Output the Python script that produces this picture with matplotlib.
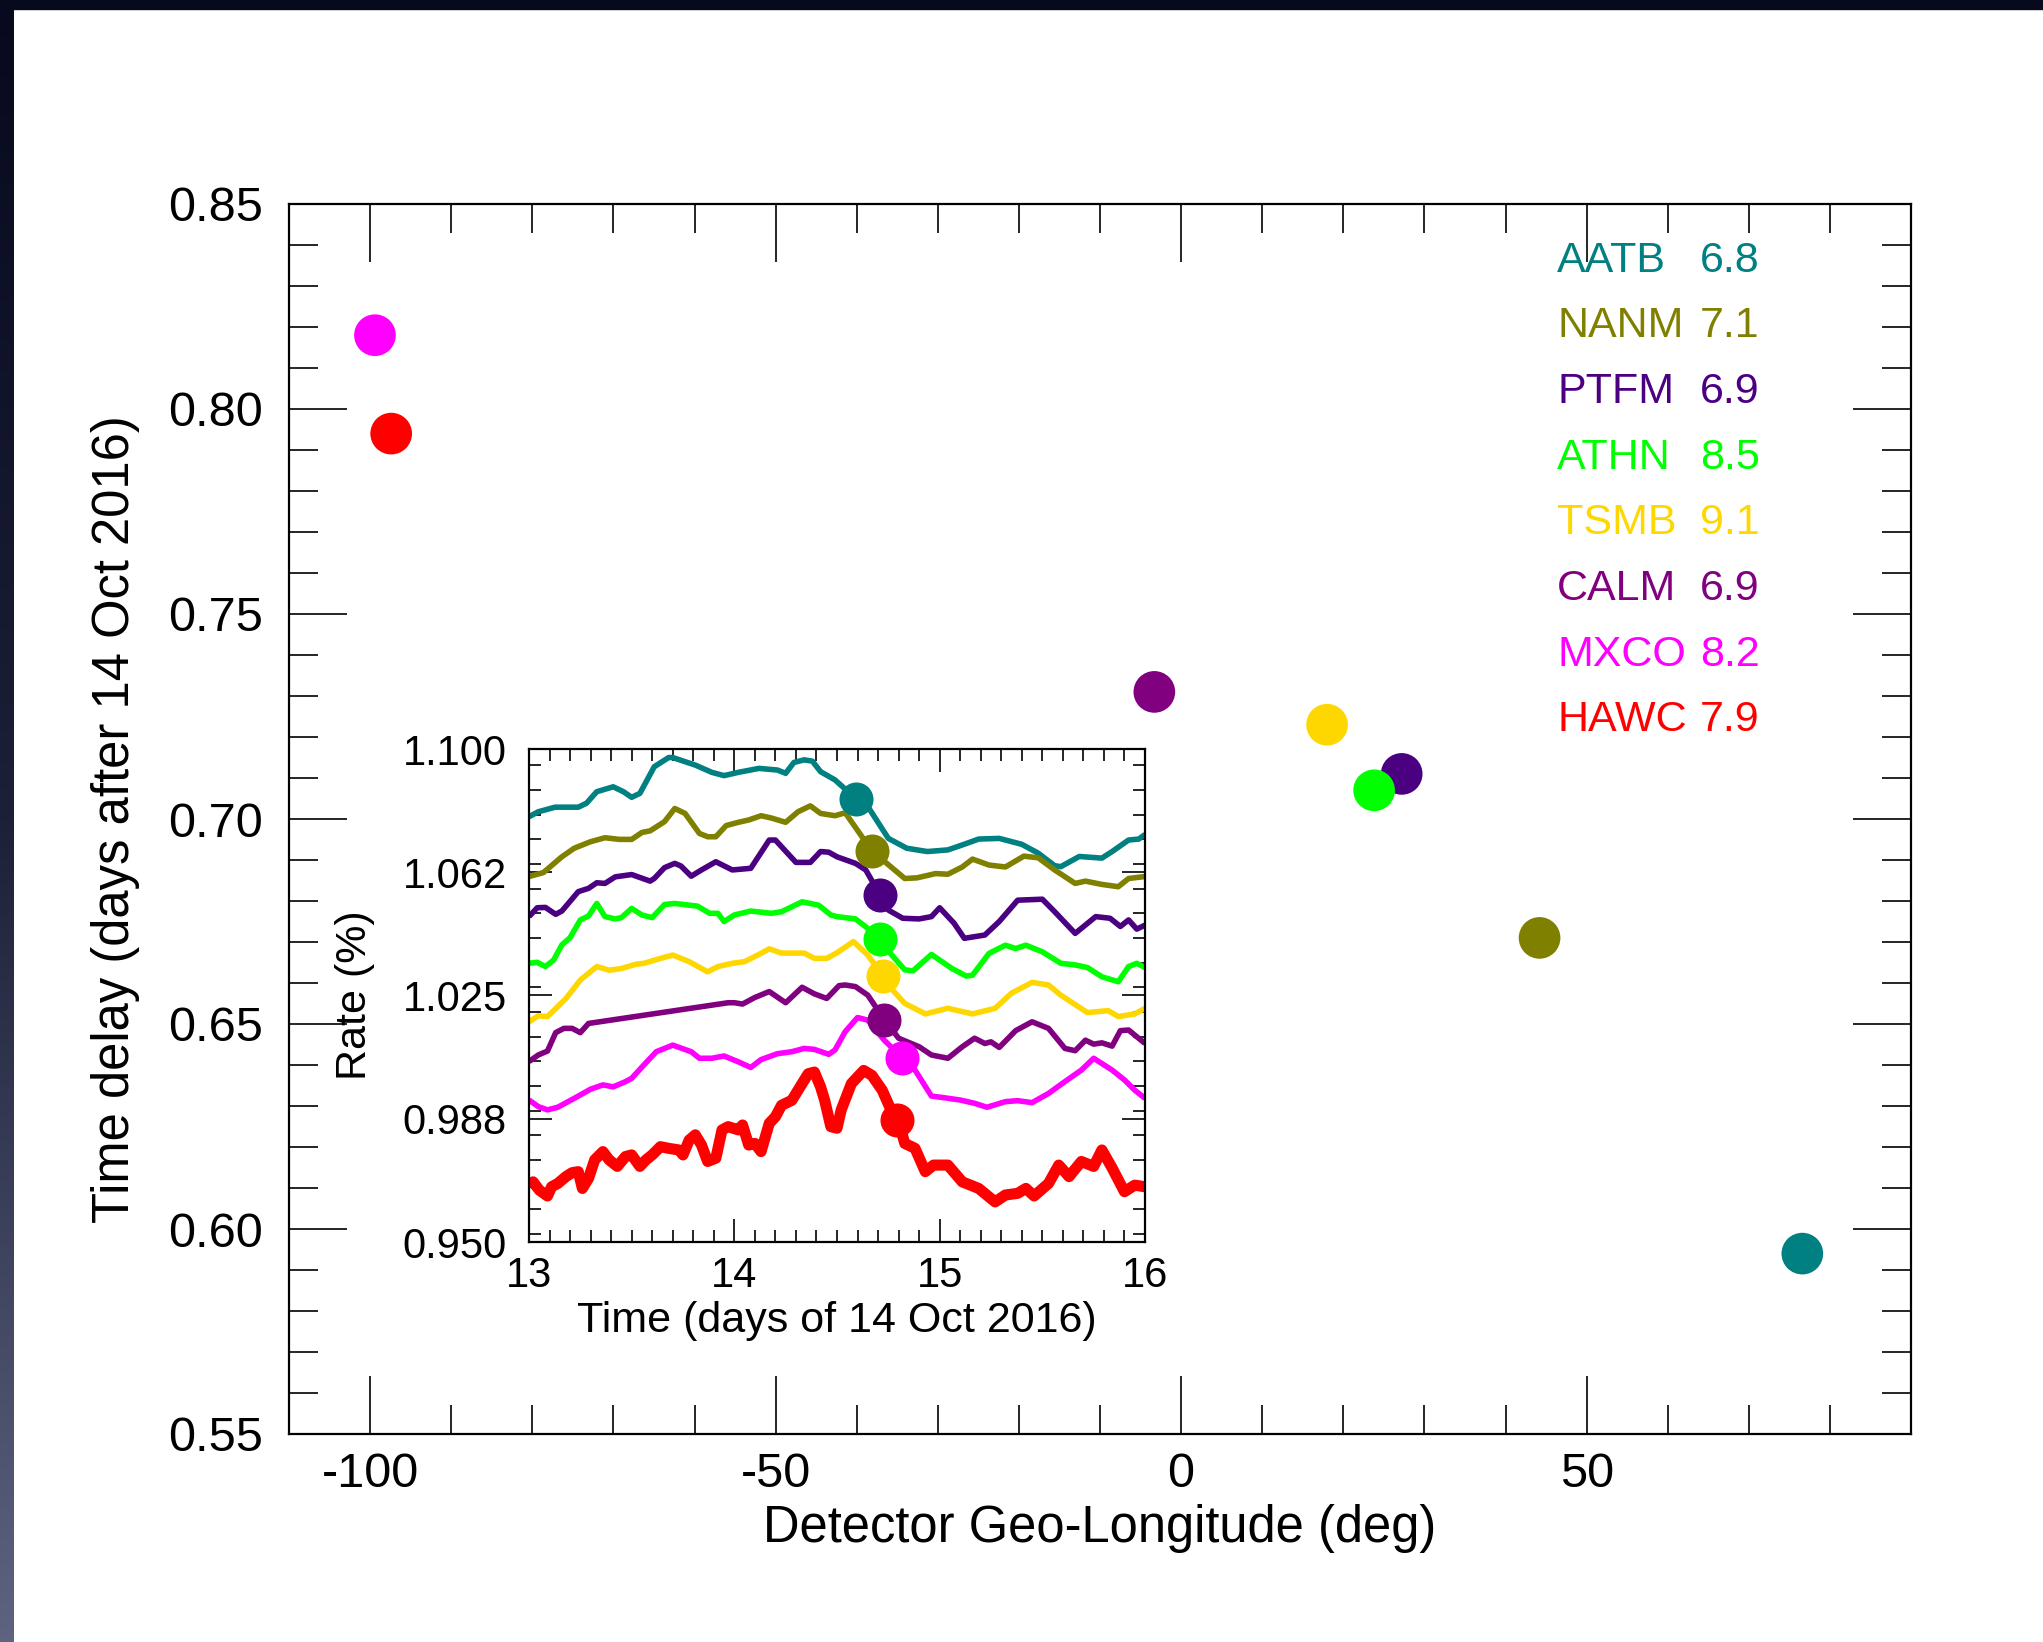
import matplotlib
matplotlib.use("Agg")
import matplotlib.pyplot as plt
import numpy as np
from matplotlib.patches import Rectangle
from matplotlib.ticker import MultipleLocator, FixedLocator

plt.rcParams["font.family"] = ["Liberation Sans", "DejaVu Sans"]
plt.rcParams["axes.unicode_minus"] = False

# stations: name, geo-longitude (deg), time delay (days after 14 Oct 2016), value
stations = ["AATB", "NANM", "PTFM", "ATHN", "TSMB", "CALM", "MXCO", "HAWC"]
values = ["6.8", "7.1", "6.9", "8.5", "9.1", "6.9", "8.2", "7.9"]
longitude = [76.6, 44.2, 27.2, 23.8, 18.0, -3.3, -99.4, -97.4]
delay = [0.594, 0.671, 0.711, 0.707, 0.723, 0.731, 0.818, 0.794]
colors = ["#008080", "#808000", "#4b0082", "#00ff00", "#ffd700", "#800080", "#ff00ff", "#ff0000"]

# inset rate curves (days, rate)
aatb_t = [13.00, 13.045, 13.127, 13.24, 13.28, 13.33, 13.41, 13.46, 13.50, 13.54, 13.61, 13.68, 13.70,
          13.81, 13.89, 13.95, 14.02, 14.12, 14.21, 14.25, 14.29, 14.34, 14.38, 14.42, 14.49, 14.59,
          14.65, 14.75, 14.84, 14.94, 15.04, 15.11, 15.19, 15.29, 15.40, 15.48, 15.56, 15.59, 15.68,
          15.79, 15.84, 15.92, 15.97, 16.00]
aatb_r = [1.0794, 1.0809, 1.0823, 1.0823, 1.0835, 1.0870, 1.0885, 1.0870, 1.0853, 1.0865, 1.0946, 1.0974,
          1.0974, 1.0951, 1.0929, 1.0919, 1.0929, 1.0941, 1.0936, 1.0926, 1.0959, 1.0967, 1.0963, 1.0931,
          1.0906, 1.0850, 1.0825, 1.0728, 1.0698, 1.0688, 1.0693, 1.0708, 1.0726, 1.0728, 1.0710, 1.0683,
          1.0645, 1.0642, 1.0673, 1.0668, 1.0688, 1.0723, 1.0726, 1.0740]

nanm_t = [13.00, 13.07, 13.16, 13.22, 13.30, 13.37, 13.44, 13.50, 13.55, 13.59, 13.66, 13.71, 13.76,
          13.83, 13.87, 13.91, 13.96, 14.02, 14.07, 14.13, 14.18, 14.25, 14.31, 14.37, 14.42, 14.49,
          14.54, 14.67, 14.83, 14.89, 14.98, 15.04, 15.11, 15.16, 15.24, 15.32, 15.41, 15.48, 15.56,
          15.66, 15.71, 15.79, 15.87, 15.92, 16.00]
nanm_r = [1.0612, 1.0624, 1.0672, 1.0698, 1.0718, 1.0730, 1.0725, 1.0725, 1.0746, 1.0751, 1.0779, 1.0819,
          1.0804, 1.0743, 1.0733, 1.0733, 1.0767, 1.0777, 1.0784, 1.0797, 1.0790, 1.0777, 1.0809, 1.0827,
          1.0804, 1.0797, 1.0806, 1.0690, 1.0606, 1.0608, 1.0621, 1.0619, 1.0641, 1.0665, 1.0647, 1.0641,
          1.0674, 1.0669, 1.0632, 1.0591, 1.0598, 1.0588, 1.0581, 1.0606, 1.0612]

ptfm_t = [13.00, 13.04, 13.08, 13.13, 13.16, 13.24, 13.29, 13.33, 13.37, 13.42, 13.50, 13.59, 13.61,
          13.66, 13.71, 13.74, 13.79, 13.84, 13.91, 13.99, 14.08, 14.17, 14.20, 14.30, 14.37, 14.42,
          14.46, 14.50, 14.59, 14.64, 14.71, 14.75, 14.82, 14.90, 14.96, 15.00, 15.07, 15.12, 15.22,
          15.29, 15.38, 15.50, 15.56, 15.66, 15.76, 15.83, 15.88, 15.92, 15.96, 16.00]
ptfm_r = [1.0490, 1.0517, 1.0518, 1.0497, 1.0507, 1.0566, 1.0576, 1.0593, 1.0591, 1.0611, 1.0618, 1.0598,
          1.0606, 1.0639, 1.0652, 1.0644, 1.0613, 1.0632, 1.0657, 1.0632, 1.0637, 1.0723, 1.0723, 1.0655,
          1.0655, 1.0688, 1.0686, 1.0672, 1.0652, 1.0632, 1.0556, 1.0510, 1.0485, 1.0483, 1.0490, 1.0517,
          1.0470, 1.0424, 1.0434, 1.0475, 1.0540, 1.0543, 1.0505, 1.0439, 1.0490, 1.0485, 1.0460, 1.0480,
          1.0452, 1.0464]

athn_t = [13.00, 13.04, 13.08, 13.12, 13.16, 13.20, 13.25, 13.29, 13.33, 13.37, 13.42, 13.45, 13.50,
          13.55, 13.60, 13.66, 13.71, 13.82, 13.88, 13.92, 13.95, 14.00, 14.08, 14.18, 14.23, 14.33,
          14.41, 14.47, 14.50, 14.59, 14.64, 14.71, 14.76, 14.83, 14.87, 14.96, 15.06, 15.13, 15.16,
          15.24, 15.32, 15.37, 15.42, 15.50, 15.59, 15.66, 15.72, 15.79, 15.87, 15.92, 15.96, 16.00]
athn_r = [1.0348, 1.0351, 1.0338, 1.0358, 1.0404, 1.0426, 1.0480, 1.0492, 1.0530, 1.0490, 1.0483, 1.0487,
          1.0515, 1.0495, 1.0487, 1.0527, 1.0530, 1.0522, 1.0500, 1.0500, 1.0475, 1.0495, 1.0507, 1.0500,
          1.0505, 1.0535, 1.0525, 1.0495, 1.0490, 1.0483, 1.0459, 1.0419, 1.0378, 1.0328, 1.0325, 1.0375,
          1.0332, 1.0309, 1.0312, 1.0378, 1.0403, 1.0393, 1.0403, 1.0383, 1.0348, 1.0343, 1.0335, 1.0307,
          1.0292, 1.0338, 1.0348, 1.0335]

tsmb_t = [13.00, 13.045, 13.09, 13.13, 13.18, 13.25, 13.33, 13.39, 13.45, 13.52, 13.56, 13.63, 13.70,
          13.78, 13.87, 13.92, 13.99, 14.05, 14.12, 14.17, 14.23, 14.34, 14.39, 14.45, 14.50, 14.58,
          14.65, 14.72, 14.77, 14.83, 14.93, 15.04, 15.16, 15.27, 15.35, 15.45, 15.53, 15.59, 15.72,
          15.82, 15.87, 15.95, 16.00]
tsmb_r = [1.0170, 1.0188, 1.0186, 1.0210, 1.0241, 1.0297, 1.0338, 1.0327, 1.0332, 1.0345, 1.0348, 1.0361,
          1.0373, 1.0353, 1.0322, 1.0338, 1.0348, 1.0353, 1.0375, 1.0392, 1.0379, 1.0379, 1.0363, 1.0363,
          1.0380, 1.0414, 1.0373, 1.0312, 1.0267, 1.0226, 1.0194, 1.0211, 1.0194, 1.0211, 1.0257, 1.0290,
          1.0282, 1.0251, 1.0198, 1.0204, 1.0186, 1.0194, 1.0211]

calm_t = [13.00, 13.045, 13.09, 13.13, 13.17, 13.21, 13.25, 13.29, 13.97, 14.00, 14.04, 14.10, 14.17,
          14.25, 14.33, 14.39, 14.45, 14.51, 14.54, 14.59, 14.65, 14.73, 14.80, 14.90, 14.96, 15.04,
          15.11, 15.17, 15.22, 15.25, 15.29, 15.37, 15.45, 15.53, 15.61, 15.66, 15.71, 15.75, 15.79,
          15.84, 15.88, 15.92, 16.00]
calm_r = [1.0049, 1.0069, 1.0081, 1.0137, 1.0150, 1.0150, 1.0137, 1.0165, 1.0228, 1.0228, 1.0224, 1.0244,
          1.0262, 1.0228, 1.0275, 1.0255, 1.0241, 1.0280, 1.0282, 1.0277, 1.0251, 1.0177, 1.0120, 1.0094,
          1.0069, 1.0059, 1.0094, 1.0120, 1.0104, 1.0109, 1.0092, 1.0143, 1.0170, 1.0150, 1.0089, 1.0082,
          1.0114, 1.0102, 1.0106, 1.0096, 1.0143, 1.0145, 1.0104]

mxco_t = [13.00, 13.045, 13.09, 13.14, 13.22, 13.30, 13.36, 13.41, 13.47, 13.50, 13.56, 13.62, 13.70,
          13.79, 13.83, 13.89, 13.95, 14.02, 14.08, 14.13, 14.21, 14.28, 14.34, 14.39, 14.46, 14.49,
          14.54, 14.60, 14.65, 14.73, 14.82, 14.88, 14.96, 15.01, 15.10, 15.17, 15.23, 15.32, 15.38,
          15.45, 15.53, 15.61, 15.69, 15.75, 15.84, 15.90, 15.95, 16.00]
mxco_r = [0.9932, 0.9912, 0.9902, 0.9910, 0.9937, 0.9965, 0.9978, 0.9972, 0.9988, 0.9998, 1.0039, 1.0079,
          1.0099, 1.0079, 1.0059, 1.0059, 1.0066, 1.0048, 1.0031, 1.0055, 1.0073, 1.0079, 1.0089, 1.0086,
          1.0071, 1.0084, 1.0140, 1.0183, 1.0175, 1.0114, 1.0059, 1.0023, 0.9944, 0.9940, 0.9932, 0.9922,
          0.9910, 0.9927, 0.9930, 0.9924, 0.9952, 0.9988, 1.0023, 1.0059, 1.0023, 0.9993, 0.9962, 0.9937]

hawc_t = [13.00, 13.02, 13.05, 13.09, 13.11, 13.14, 13.18, 13.21, 13.24, 13.26, 13.29, 13.32, 13.36,
          13.39, 13.43, 13.47, 13.50, 13.54, 13.57, 13.60, 13.64, 13.68, 13.73, 13.75, 13.78, 13.81,
          13.84, 13.87, 13.91, 13.94, 13.97, 14.02, 14.04, 14.07, 14.10, 14.13, 14.17, 14.20, 14.23,
          14.28, 14.33, 14.36, 14.39, 14.42, 14.44, 14.47, 14.50, 14.52, 14.57, 14.63, 14.67, 14.72,
          14.76, 14.80, 14.83, 14.88, 14.93, 14.97, 15.04, 15.11, 15.19, 15.27, 15.32, 15.38, 15.42,
          15.46, 15.53, 15.58, 15.63, 15.69, 15.75, 15.79, 15.84, 15.90, 15.95, 16.00]
hawc_r = [0.9668, 0.9683, 0.9658, 0.9640, 0.9668, 0.9678, 0.9699, 0.9711, 0.9714, 0.9663, 0.9694, 0.9750,
          0.9775, 0.9750, 0.9730, 0.9760, 0.9765, 0.9730, 0.9750, 0.9765, 0.9790, 0.9785, 0.9780, 0.9765,
          0.9810, 0.9826, 0.9795, 0.9745, 0.9755, 0.9841, 0.9851, 0.9841, 0.9856, 0.9795, 0.9800, 0.9775,
          0.9861, 0.9881, 0.9916, 0.9931, 0.9982, 1.0012, 1.0017, 0.9972, 0.9931, 0.9851, 0.9846, 0.9901,
          0.9982, 1.0022, 1.0007, 0.9962, 0.9906, 0.9866, 0.9800, 0.9785, 0.9714, 0.9734, 0.9734, 0.9683,
          0.9663, 0.9622, 0.9643, 0.9648, 0.9663, 0.9640, 0.9678, 0.9734, 0.9699, 0.9745, 0.9730, 0.9780,
          0.9725, 0.9653, 0.9673, 0.9668]

curves_t = [aatb_t, nanm_t, ptfm_t, athn_t, tsmb_t, calm_t, mxco_t, hawc_t]
curves_r = [aatb_r, nanm_r, ptfm_r, athn_r, tsmb_r, calm_r, mxco_r, hawc_r]

inset_yticks = [0.950, 0.9875, 1.025, 1.0625, 1.100]
inset_ylabels = ["0.950", "0.988", "1.025", "1.062", "1.100"]

fig = plt.figure(figsize=(20.43, 16.42), dpi=100)
fig.patch.set_facecolor("white")

# dark slide frame on top and left edge
fig.patches.append(Rectangle((0, 1 - 9 / 1642), 1, 9 / 1642, transform=fig.transFigure,
                             color="#070a1c", zorder=0))
band = fig.add_axes([0, 0, 14 / 2043, 1])
grad = np.linspace(0, 1, 256).reshape(-1, 1)
band.imshow(grad, aspect="auto", cmap=matplotlib.colors.LinearSegmentedColormap.from_list(
    "slide", ["#070a1c", "#1c2038", "#5e6380"]), extent=[0, 1, 0, 1], origin="upper")
band.axis("off")

ax = fig.add_axes([289 / 2043, 208 / 1642, 1622 / 2043, 1230 / 1642])
ax.scatter(longitude, delay, s=900, c=colors, linewidths=0, zorder=3)
ax.set_xlim(-110, 90)
ax.set_ylim(0.55, 0.85)
ax.xaxis.set_major_locator(FixedLocator([-100, -50, 0, 50]))
ax.xaxis.set_minor_locator(MultipleLocator(10))
ax.yaxis.set_major_locator(MultipleLocator(0.05))
ax.yaxis.set_minor_locator(MultipleLocator(0.01))
ax.yaxis.set_major_formatter(matplotlib.ticker.FormatStrFormatter("%.2f"))
ax.tick_params(which="both", direction="in", top=True, right=True, width=1.2, labelsize=35)
ax.tick_params(which="major", length=42)
ax.tick_params(which="minor", length=21)
ax.tick_params(axis="x", pad=13)
ax.tick_params(axis="y", pad=19)
for sp in ax.spines.values():
    sp.set_linewidth(1.6)
ax.set_xlabel("Detector Geo-Longitude (deg)", fontsize=36.5, labelpad=5)
ax.set_ylabel("Time delay (days after 14 Oct 2016)", fontsize=36.5, labelpad=20)

for i, name in enumerate(stations):
    yy = 0.954 - i * 0.0534
    ax.text(0.7818, yy, name, color=colors[i], fontsize=31, va="center", ha="left",
            transform=ax.transAxes)
    ax.text(0.870, yy, values[i], color=colors[i], fontsize=31, va="center", ha="left",
            transform=ax.transAxes)

# inset with rate curves
ins = fig.add_axes([529 / 2043, 400 / 1642, 616 / 2043, 493 / 1642])
for i in range(len(stations)):
    lw = 8.0 if stations[i] == "HAWC" else 4.0
    ins.plot(curves_t[i], curves_r[i], color=colors[i], lw=lw, solid_joinstyle="round",
             solid_capstyle="butt", zorder=2)
    tx = 14 + delay[i]
    ins.scatter([tx], [np.interp(tx, curves_t[i], curves_r[i])], s=600, color=colors[i],
                linewidths=0, zorder=3)
ins.set_xlim(13, 16)
ins.set_ylim(0.950, 1.100)
ins.xaxis.set_major_locator(MultipleLocator(1))
ins.xaxis.set_minor_locator(MultipleLocator(0.1))
ins.set_yticks(inset_yticks)
ins.set_yticklabels(inset_ylabels)
ins.yaxis.set_minor_locator(MultipleLocator(0.0075))
ins.tick_params(which="both", direction="in", top=True, right=True, width=1.2, labelsize=30)
ins.tick_params(which="major", length=16.5)
ins.tick_params(which="minor", length=8.5)
ins.tick_params(axis="x", pad=10)
ins.tick_params(axis="y", pad=16)
for sp in ins.spines.values():
    sp.set_linewidth(1.6)
ins.set_xlabel("Time (days of 14 Oct 2016)", fontsize=31, labelpad=4)
ins.set_ylabel("Rate (%)", fontsize=31, labelpad=20)

fig.savefig("out.png", dpi=100)
